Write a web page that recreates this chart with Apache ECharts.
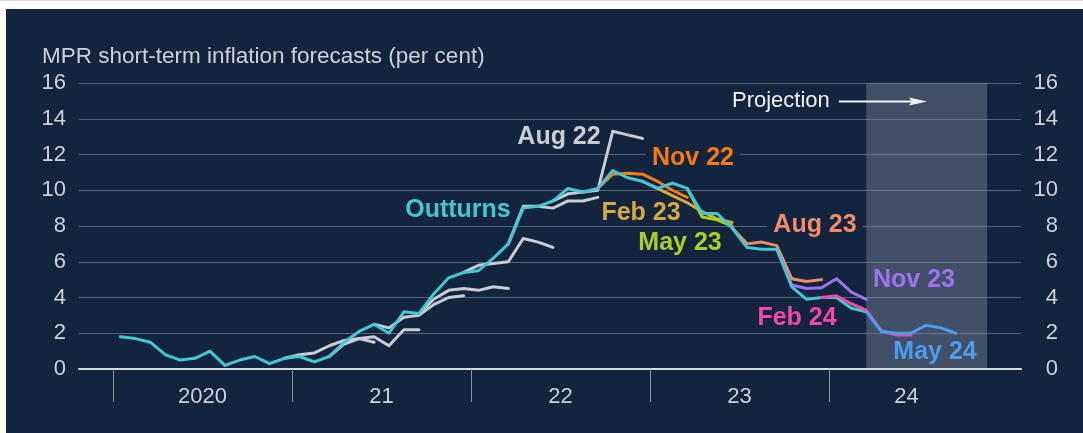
<!DOCTYPE html>
<html>
<head>
<meta charset="utf-8">
<script src="https://cdn.jsdelivr.net/npm/echarts@6/dist/echarts.min.js"></script>
<style>
  body { margin: 0; background: #ffffff; }
  #topline { position: absolute; left: 0; top: 0; width: 1083px; height: 1px; background: #d9dbde; }
  #panel { position: absolute; left: 6px; top: 9px; width: 1077px; height: 424px; background: #13243e; }
  #chart { position: absolute; left: 0; top: 0; width: 1083px; height: 433px; }
</style>
</head>
<body>
<div id="topline"></div>
<div id="panel"></div>
<div id="chart"></div>
<script>
// month index 0 = Jan 2020, points sit mid-month
const outturns = [
  1.8, 1.7, 1.5, 0.8, 0.5, 0.6, 1.0, 0.2, 0.5, 0.7, 0.3, 0.6,
  0.7, 0.4, 0.7, 1.5, 2.1, 2.5, 2.0, 3.2, 3.1, 4.2, 5.1, 5.4,
  5.5, 6.2, 7.0, 9.0, 9.1, 9.4, 10.1, 9.9, 10.1, 11.1, 10.7, 10.5,
  10.1, 10.4, 10.1, 8.7, 8.7, 7.9, 6.8, 6.7, 6.7, 4.6, 3.9, 4.0,
  4.0, 3.4, 3.2
]

// older forecasts (grey), each starts at the month given
const feb21Start = 11, feb21 = [0.6, 0.8, 0.9, 1.3, 1.6, 1.7, 1.5]
const may21Start = 14, may21 = [0.7, 1.4, 1.7, 1.8, 1.3, 2.2, 2.2]
const aug21Start = 17, aug21 = [2.5, 2.3, 2.9, 3.0, 3.6, 4.0, 4.1]
const nov21Start = 20, nov21 = [3.1, 3.9, 4.4, 4.5, 4.4, 4.6, 4.5]
const feb22Start = 23, feb22 = [5.4, 5.8, 5.9, 6.0, 7.3, 7.1, 6.8]
const may22Start = 26, may22 = [7.0, 9.1, 9.1, 9.0, 9.4, 9.4, 9.6]
const aug22Start = 29, aug22 = [9.4, 9.8, 9.9, 10.0, 13.3, 13.1, 12.9]

// labelled forecasts
const nov22Start = 32, nov22 = [10.1, 10.9, 10.95, 10.9, 10.5, 10.0, 9.6]
const feb23Start = 35, feb23 = [10.5, 10.1, 9.7, 9.3, 8.8, 8.4, 8.2]
const may23Start = 38, may23 = [10.1, 8.5, 8.35, 8.0]
const aug23Start = 41, aug23 = [7.9, 7.0, 7.1, 6.9, 5.05, 4.9, 5.0]
const nov23Start = 44, nov23 = [6.7, 4.7, 4.5, 4.55, 5.05, 4.3, 3.9]
const feb24Start = 47, feb24 = [4.0, 4.1, 3.65, 3.3, 2.15, 1.9, 1.9]
const may24Start = 50, may24 = [3.2, 2.1, 2.0, 2.0, 2.45, 2.3, 2.0]

const yearTicks = [0, 12, 24, 36, 48]
const yearLabels = ['2020', '21', '22', '23', '24']
const yearLabelAt = [6, 18, 30, 42, 53.2]
const yTicks = [0, 2, 4, 6, 8, 10, 12, 14, 16]
const projection = [50.5, 58.6]

const FONT = '"Liberation Sans", Arial, Helvetica, sans-serif'
const colors = {
  outturn: '#41c8d2',
  grey: '#c9cdd3',
  nov22: '#f47a14',
  feb23: '#d6aa3e',
  may23: '#a8d01c',
  aug23: '#f28c66',
  nov23: '#a072ef',
  feb24: '#f049a9',
  may24: '#4d9cf0',
  text: '#cdd1d7',
  grid: '#55637a',
  panel: '#13243e'
}

const pairs = (start, values) => values.map((v, i) => [start + i + 0.5, v])

const lineSeries = (name, data, color, z) => ({
  name,
  type: 'line',
  data,
  z,
  symbol: 'none',
  silent: true,
  lineStyle: { width: 3, color, join: 'round', cap: 'round' },
  itemStyle: { color }
})

// text annotations, page pixels
const labels = [
  { text: 'Outturns', x: 458, y: 210, color: colors.outturn },
  { text: 'Aug 22', x: 559, y: 137, color: colors.grey },
  { text: 'Nov 22', x: 693, y: 158, color: colors.nov22, bg: true },
  { text: 'Feb 23', x: 641, y: 213, color: colors.feb23 },
  { text: 'May 23', x: 680, y: 243, color: colors.may23 },
  { text: 'Aug 23', x: 815, y: 225, color: colors.aug23, bg: true },
  { text: 'Nov 23', x: 914, y: 280, color: colors.nov23 },
  { text: 'Feb 24', x: 797, y: 318, color: colors.feb24 },
  { text: 'May 24', x: 935, y: 352, color: colors.may24 }
]

const chart = echarts.init(document.getElementById('chart'), null, { renderer: 'canvas' })

const option = {
  backgroundColor: 'transparent',
  animation: false,
  grid: { left: 79, right: 62, top: 83, bottom: 64, containLabel: false },
  xAxis: {
    type: 'value',
    min: -2.28,
    max: 60.87,
    z: 10,
    axisLine: { show: true, onZero: false, lineStyle: { color: '#d6dade', width: 2 } },
    axisTick: {
      show: true,
      customValues: yearTicks,
      length: 33,
      lineStyle: { color: '#8b94a2', width: 1 }
    },
    axisLabel: {
      customValues: yearLabelAt,
      margin: 17,
      color: colors.text,
      fontSize: 22,
      fontFamily: FONT,
      formatter: (v) => {
        const i = yearLabelAt.indexOf(v)
        return i >= 0 ? yearLabels[i] : ''
      }
    },
    splitLine: { show: false }
  },
  yAxis: [
    {
      type: 'value',
      min: 0,
      max: 16,
      interval: 2,
      axisLine: { show: false },
      axisTick: { show: false },
      axisLabel: { margin: 13, color: colors.text, fontSize: 22, fontFamily: FONT },
      splitLine: { lineStyle: { color: colors.grid, width: 1 } }
    },
    {
      type: 'value',
      position: 'right',
      min: 0,
      max: 16,
      interval: 2,
      axisLine: { show: false },
      axisTick: { show: false },
      axisLabel: { margin: 37, align: 'right', color: colors.text, fontSize: 22, fontFamily: FONT },
      splitLine: { show: false }
    }
  ],
  series: [
    {
      type: 'line',
      data: [],
      z: 1,
      silent: true,
      markArea: {
        silent: true,
        itemStyle: { color: 'rgba(130, 143, 160, 0.42)' },
        data: [[{ xAxis: projection[0] }, { xAxis: projection[1] }]]
      }
    },
    lineSeries('Feb 21', pairs(feb21Start, feb21), colors.grey, 3),
    lineSeries('May 21', pairs(may21Start, may21), colors.grey, 3),
    lineSeries('Aug 21', pairs(aug21Start, aug21), colors.grey, 3),
    lineSeries('Nov 21', pairs(nov21Start, nov21), colors.grey, 3),
    lineSeries('Feb 22', pairs(feb22Start, feb22), colors.grey, 3),
    lineSeries('May 22', pairs(may22Start, may22), colors.grey, 3),
    lineSeries('Aug 22', pairs(aug22Start, aug22), colors.grey, 3),
    lineSeries('Nov 22', pairs(nov22Start, nov22), colors.nov22, 4),
    lineSeries('Feb 23', pairs(feb23Start, feb23), colors.feb23, 4),
    lineSeries('May 23', pairs(may23Start, may23), colors.may23, 4),
    lineSeries('Aug 23', pairs(aug23Start, aug23), colors.aug23, 4),
    lineSeries('Nov 23', pairs(nov23Start, nov23), colors.nov23, 4),
    lineSeries('Outturns', pairs(0, outturns), colors.outturn, 5),
    lineSeries('Feb 24', pairs(feb24Start, feb24), colors.feb24, 6),
    lineSeries('May 24', pairs(may24Start, may24), colors.may24, 7)
  ],
  graphic: {
    elements: [
      {
        type: 'text',
        z: 20,
        style: {
          x: 42, y: 57,
          text: 'MPR short-term inflation forecasts (per cent)',
          fill: colors.text,
          font: '22.5px ' + FONT,
          verticalAlign: 'middle'
        }
      },
      {
        type: 'text',
        z: 20,
        style: {
          x: 732, y: 101,
          text: 'Projection',
          fill: '#f2f3f5',
          font: '22px ' + FONT,
          verticalAlign: 'middle'
        }
      },
      {
        type: 'line',
        z: 20,
        shape: { x1: 839, y1: 101.5, x2: 914, y2: 101.5 },
        style: { stroke: '#f2f3f5', lineWidth: 2 }
      },
      {
        type: 'polygon',
        z: 20,
        shape: { points: [[909, 97.5], [927, 101.5], [909, 105.5], [912, 101.5]] },
        style: { fill: '#f2f3f5' }
      },
      ...labels.map((l) => ({
        type: 'text',
        z: 20,
        style: {
          x: l.x, y: l.y,
          text: l.text,
          fill: l.color,
          font: 'bold 25px ' + FONT,
          align: 'center',
          verticalAlign: 'middle',
          backgroundColor: l.bg ? colors.panel : null,
          padding: l.bg ? [0, 6] : 0
        }
      }))
    ]
  }
}

chart.setOption(option)
</script>
</body>
</html>
